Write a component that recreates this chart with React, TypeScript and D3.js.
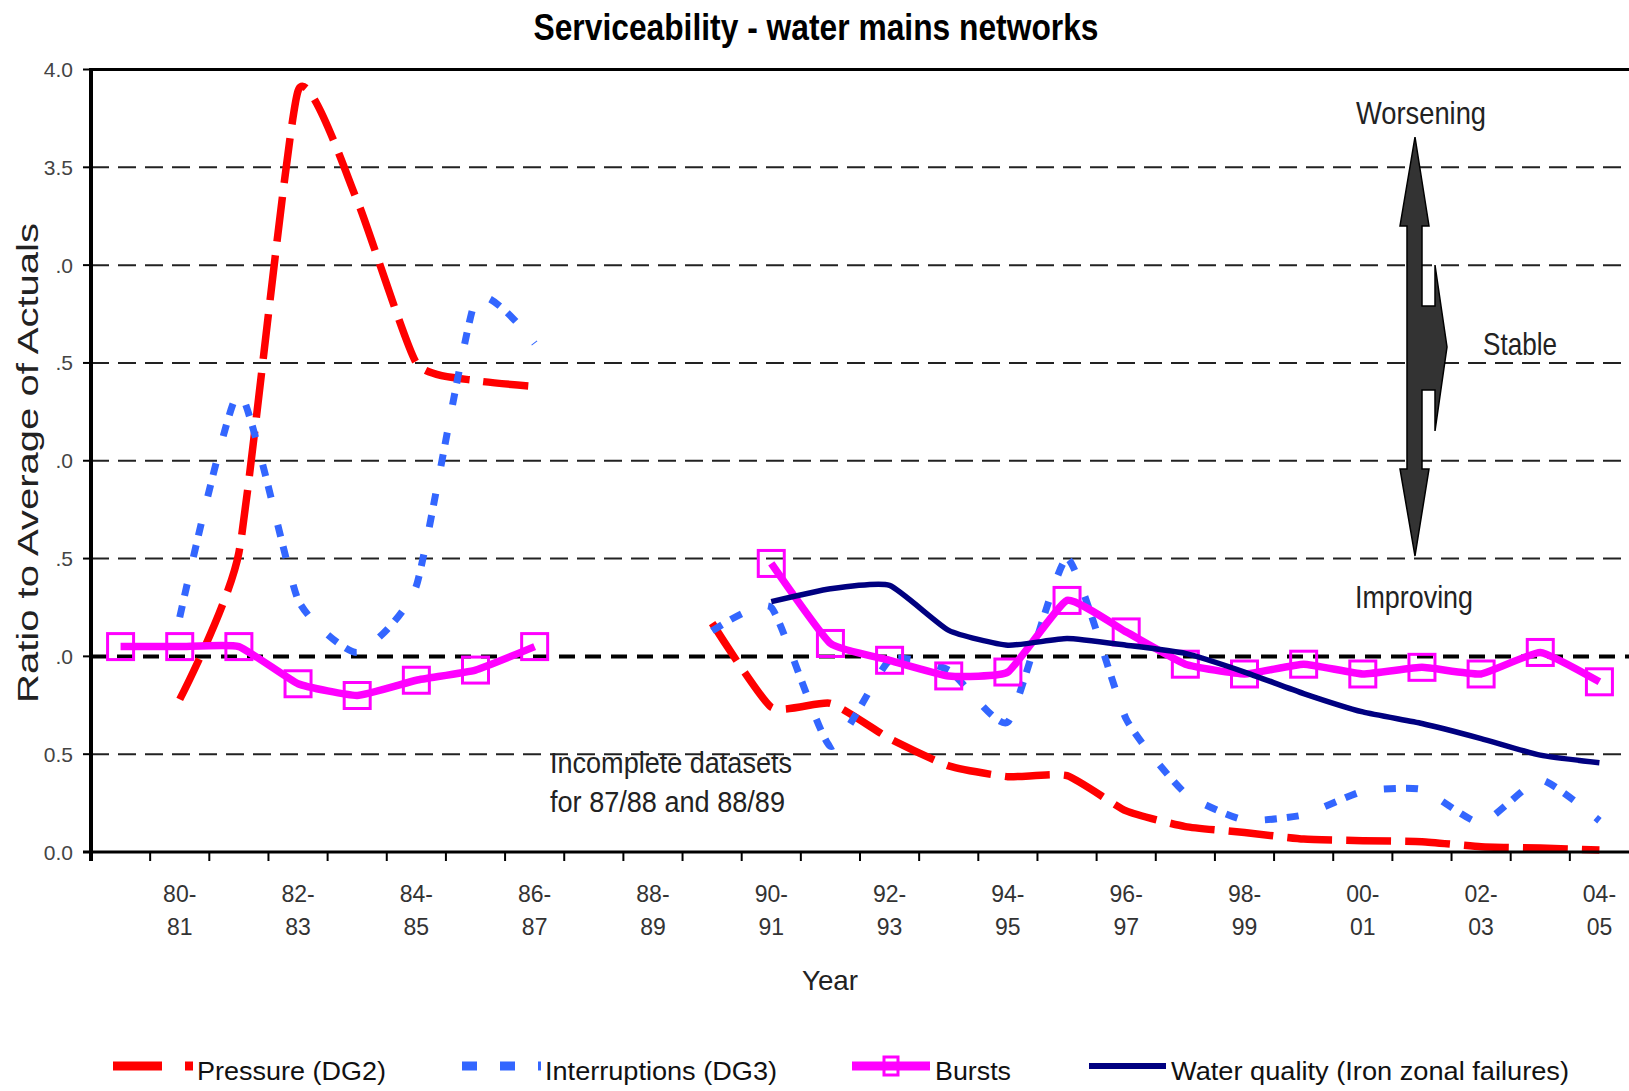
import React from "react";
import * as d3 from "d3";

const categories = [
  "79-80", "80-81", "81-82", "82-83", "83-84", "84-85", "85-86", "86-87", "87-88", "88-89",
  "89-90", "90-91", "91-92", "92-93", "93-94", "94-95", "95-96", "96-97", "97-98", "98-99",
  "99-00", "00-01", "01-02", "02-03", "03-04", "04-05",
];
const labeledCategories = [
  "80-81", "82-83", "84-85", "86-87", "88-89", "90-91", "92-93", "94-95", "96-97", "98-99",
  "00-01", "02-03", "04-05",
];

const pressure: (number | null)[] = [
  null, 0.78, 1.53, 3.89, 3.33, 2.5, 2.41, 2.38, null, null,
  1.17, 0.74, 0.76, 0.58, 0.44, 0.385, 0.39, 0.21, 0.13, 0.1,
  0.066, 0.058, 0.053, 0.027, 0.02, 0.01,
];
const interruptions: (number | null)[] = [
  null, 1.2, 2.35, 1.29, 1.02, 1.36, 2.82, 2.6, null, null,
  1.13, 1.25, 0.54, 0.98, 0.93, 0.665, 1.5, 0.68, 0.3, 0.163,
  0.19, 0.31, 0.32, 0.148, 0.37, 0.16,
];
const bursts: (number | null)[] = [
  1.05, 1.05, 1.05, 0.86, 0.8, 0.878, 0.93, 1.05, null, null,
  null, 1.475, 1.066, 0.98, 0.9, 0.92, 1.286, 1.125, 0.96, 0.91,
  0.96, 0.91, 0.944, 0.91, 1.02, 0.87,
];
const waterQuality: (number | null)[] = [
  null, null, null, null, null, null, null, null, null, null,
  null, 1.28, 1.346, 1.363, 1.133, 1.057, 1.091, 1.057, 1.015, 0.92,
  0.81, 0.716, 0.657, 0.58, 0.495, 0.456,
];

const yTickValues = [0, 0.5, 1, 1.5, 2, 2.5, 3, 3.5, 4];
const yTickLabels = ["0.0", "0.5", ".0", ".5", ".0", ".5", ".0", "3.5", "4.0"];

const legendLabels = [
  "Pressure (DG2)",
  "Interruptions (DG3)",
  "Bursts",
  "Water quality (Iron zonal failures)",
];

const titleText = "Serviceability - water mains networks";
const yTitle = "Ratio to Average of Actuals";
const xTitle = "Year";
const noteLines = ["Incomplete datasets", "for 87/88 and 88/89"];

const FONT = "'Liberation Sans', Arial, sans-serif";
const W = 1629;
const H = 1091;
const PLOT = { left: 91, right: 1629, top: 69.5, bottom: 852 };

const RED = "#ff0000";
const BLUE = "#3366ff";
const MAGENTA = "#ff00ff";
const NAVY = "#000080";

export default function App() {
  const x = d3.scaleBand<string>().domain(categories).range([PLOT.left, PLOT.right]);
  const bw = x.bandwidth();
  const cx = (c: string) => (x(c) as number) + bw / 2;
  const y = d3.scaleLinear().domain([0, 4]).range([PLOT.bottom, PLOT.top]);

  const mkLine = (arr: (number | null)[], tension: number) =>
    d3
      .line<number | null>()
      .defined((d) => d != null)
      .x((_d, i) => cx(categories[i]))
      .y((d) => y(d as number))
      .curve(d3.curveCardinal.tension(tension))(arr) || "";

  const burstPts = bursts
    .map((v, i) => ({ v, c: categories[i] }))
    .filter((d) => d.v != null) as { v: number; c: string }[];

  // arrow (annotation)
  const arrowPts: [number, number][] = [
    [1415, 137], [1429, 226], [1422, 226], [1422, 306], [1435, 306], [1435, 265],
    [1447, 347], [1435, 431], [1435, 390], [1422, 390], [1422, 469], [1429, 469],
    [1415, 556], [1400, 469], [1407, 469], [1407, 226], [1400, 226],
  ];

  const legendY = 1066;
  const legendItems = [
    { label: legendLabels[0], x0: 113, x1: 193, tx: 197, tl: 189 },
    { label: legendLabels[1], x0: 462, x1: 541, tx: 545, tl: 232 },
    { label: legendLabels[2], x0: 852, x1: 930, tx: 935, tl: 76 },
    { label: legendLabels[3], x0: 1089, x1: 1166, tx: 1171, tl: 398 },
  ];

  return (
    <svg
      width={W}
      height={H}
      viewBox={`0 0 ${W} ${H}`}
      style={{ position: "absolute", left: 0, top: 0, background: "#fff", display: "block" }}
      fontFamily={FONT}
    >
      <rect x={0} y={0} width={W} height={H} fill="#fff" />

      {/* title */}
      <text x={816} y={39.5} textAnchor="middle" fontSize={37} fontWeight="bold" fill="#000"
        textLength={565} lengthAdjust="spacingAndGlyphs">
        {titleText}
      </text>

      {/* gridlines */}
      {yTickValues.filter((v) => v > 0 && v < 4).map((v) => (
        <line key={"g" + v} x1={PLOT.left} x2={PLOT.right} y1={y(v)} y2={y(v)}
          stroke={v === 1 ? "#000" : "#222"} strokeWidth={v === 1 ? 4 : 2}
          strokeDasharray={v === 1 ? "16 10" : "18 9"} />
      ))}

      {/* y ticks & labels */}
      {yTickValues.map((v, i) => (
        <g key={"yt" + v}>
          <line x1={PLOT.left - 8} x2={PLOT.left} y1={y(v)} y2={y(v)} stroke="#000" strokeWidth={2} />
          <text x={73} y={y(v) + 7.5} textAnchor="end" fontSize={21} fill="#444">
            {yTickLabels[i]}
          </text>
        </g>
      ))}

      {/* x ticks */}
      {categories.map((c) => (
        <line key={"xt" + c} x1={x(c) as number} x2={x(c) as number} y1={PLOT.bottom} y2={PLOT.bottom + 9}
          stroke="#000" strokeWidth={2} />
      ))}
      {labeledCategories.map((c) => {
        const [a, b] = c.split("-");
        return (
          <g key={"xl" + c}>
            <text x={cx(c)} y={902} textAnchor="middle" fontSize={23} fill="#333">{a + "-"}</text>
            <text x={cx(c)} y={935} textAnchor="middle" fontSize={23} fill="#333">{b}</text>
          </g>
        );
      })}

      {/* axis titles */}
      <text transform={`translate(38,463) rotate(-90)`} textAnchor="middle" fontSize={30} fill="#222"
        textLength={480} lengthAdjust="spacingAndGlyphs">
        {yTitle}
      </text>
      <text x={830} y={990} textAnchor="middle" fontSize={28} fill="#222" textLength={56}
        lengthAdjust="spacingAndGlyphs">
        {xTitle}
      </text>

      {/* arrow annotation */}
      <polygon points={arrowPts.map((p) => p.join(",")).join(" ")} fill="#333" stroke="#000" strokeWidth={1.5}
        strokeLinejoin="miter" />
      <text x={1356} y={124} fontSize={32} fill="#222" textLength={130} lengthAdjust="spacingAndGlyphs">Worsening</text>
      <text x={1483} y={355} fontSize={32} fill="#222" textLength={74} lengthAdjust="spacingAndGlyphs">Stable</text>
      <text x={1355} y={608} fontSize={32} fill="#222" textLength={118} lengthAdjust="spacingAndGlyphs">Improving</text>

      {/* note */}
      <text x={550} y={773} fontSize={30} fill="#222" textLength={242} lengthAdjust="spacingAndGlyphs">{noteLines[0]}</text>
      <text x={550} y={811.7} fontSize={30} fill="#222" textLength={235} lengthAdjust="spacingAndGlyphs">{noteLines[1]}</text>

      {/* series */}
      <path d={mkLine(pressure, 0.5)} fill="none" stroke={RED} strokeWidth={7.5} strokeDasharray="45 14" />
      <path d={mkLine(interruptions, 0.5)} fill="none" stroke={BLUE} strokeWidth={7} strokeDasharray="12 10 12 28" />
      <path d={mkLine(bursts, 0.6)} fill="none" stroke={MAGENTA} strokeWidth={7.5} strokeLinejoin="round" />
      {burstPts.map((d) => (
        <rect key={"m" + d.c} x={cx(d.c) - 13} y={y(d.v) - 13} width={26} height={26} fill="none"
          stroke={MAGENTA} strokeWidth={3} />
      ))}
      <path d={mkLine(waterQuality, 0.5)} fill="none" stroke={NAVY} strokeWidth={5.5} strokeLinejoin="round" />

      {/* axes frame */}
      <line x1={PLOT.left} x2={PLOT.right} y1={PLOT.top} y2={PLOT.top} stroke="#000" strokeWidth={3} />
      <line x1={PLOT.left - 8} x2={PLOT.right} y1={PLOT.bottom} y2={PLOT.bottom} stroke="#000" strokeWidth={3} />
      <line x1={PLOT.left} x2={PLOT.left} y1={PLOT.top - 1.5} y2={PLOT.bottom + 9} stroke="#000" strokeWidth={4} />

      {/* legend */}
      <line x1={legendItems[0].x0} x2={legendItems[0].x1} y1={legendY} y2={legendY} stroke={RED} strokeWidth={9}
        strokeDasharray="49 23" />
      <line x1={legendItems[1].x0} x2={legendItems[1].x1} y1={legendY} y2={legendY} stroke={BLUE} strokeWidth={9}
        strokeDasharray="15 23" />
      <line x1={legendItems[2].x0} x2={legendItems[2].x1} y1={legendY} y2={legendY} stroke={MAGENTA} strokeWidth={9} />
      <rect x={(legendItems[2].x0 + legendItems[2].x1) / 2 - 7} y={legendY - 9} width={14} height={18} fill="none"
        stroke={MAGENTA} strokeWidth={3} />
      <line x1={legendItems[3].x0} x2={legendItems[3].x1} y1={legendY} y2={legendY} stroke={NAVY} strokeWidth={6} />
      {legendItems.map((it) => (
        <text key={it.label} x={it.tx} y={legendY + 14} fontSize={26} fill="#111" textLength={it.tl}
          lengthAdjust="spacingAndGlyphs">
          {it.label}
        </text>
      ))}
    </svg>
  );
}
